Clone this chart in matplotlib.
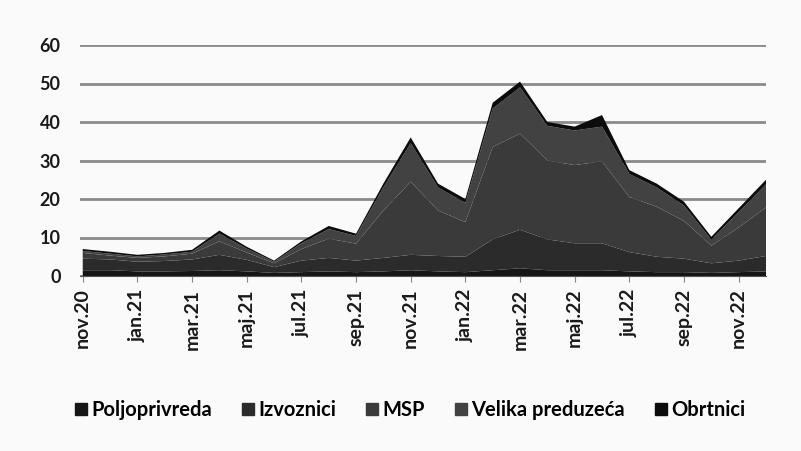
import matplotlib
matplotlib.use("Agg")
import matplotlib.pyplot as plt
import numpy as np
from matplotlib.patches import Patch

plt.rcParams['font.family'] = ['Lato', 'DejaVu Sans']

months = ["nov.20", "dec.20", "jan.21", "feb.21", "mar.21", "apr.21", "maj.21", "jun.21",
          "jul.21", "avg.21", "sep.21", "okt.21", "nov.21", "dec.21", "jan.22", "feb.22",
          "mar.22", "apr.22", "maj.22", "jun.22", "jul.22", "avg.22", "sep.22", "okt.22",
          "nov.22", "dec.22"]

poljoprivreda = [1.5, 1.5, 1.2, 1.2, 1.3, 1.5, 1.2, 0.8, 1.0, 1.2, 1.0, 1.2, 1.5, 1.2, 1.0, 1.5,
                 2.0, 1.5, 1.5, 1.5, 1.2, 1.0, 1.0, 0.8, 1.0, 1.2]
izvoznici = [3.0, 2.8, 2.5, 2.7, 3.0, 4.0, 3.0, 1.5, 3.0, 3.5, 3.0, 3.5, 4.0, 4.0, 4.0, 8.0,
             10.0, 8.0, 7.0, 7.0, 5.0, 4.0, 3.5, 2.5, 3.0, 4.0]
msp = [1.5, 1.0, 1.0, 1.2, 1.5, 3.5, 1.9, 1.0, 3.0, 5.0, 4.4, 12.3, 19.0, 11.8, 9.0, 24.0,
       25.0, 20.5, 20.3, 21.3, 14.3, 13.0, 9.8, 4.6, 8.6, 12.6]
velika = [0.5, 0.5, 0.4, 0.5, 0.5, 2.0, 1.0, 0.4, 1.5, 2.5, 2.0, 6.0, 10.0, 6.0, 5.0, 10.0,
          12.0, 9.0, 9.0, 9.0, 6.0, 5.0, 4.0, 1.5, 4.0, 6.0]
obrtnici = [0.5, 0.5, 0.4, 0.4, 0.5, 0.8, 0.5, 0.3, 0.5, 0.8, 0.6, 1.0, 1.5, 1.0, 1.0, 1.5,
            1.5, 1.0, 1.0, 3.0, 1.0, 1.0, 1.0, 0.8, 1.0, 1.2]

series_names = ["Poljoprivreda", "Izvoznici", "MSP", "Velika preduzeća", "Obrtnici"]
colors = ["#161616", "#2b2b2b", "#3a3a3a", "#424242", "#0c0c0c"]
yticks = [0, 10, 20, 30, 40, 50, 60]

fig = plt.figure(figsize=(8.01, 4.51), dpi=100)
fig.patch.set_facecolor("#fbfafb")
ax = fig.add_axes([80/801, 1-276/451, (766-80)/801, (276-45)/451])
ax.set_facecolor("#fbfafb")

x = np.arange(len(months))
ax.stackplot(x, poljoprivreda, izvoznici, msp, velika, obrtnici, colors=colors,
             linewidth=0, zorder=2)

ax.set_xlim(-0.1, len(months) - 1)
ax.set_ylim(0, 60)
ax.set_yticks(yticks)
ax.set_yticklabels([str(v) for v in yticks], fontsize=13, fontweight="bold", color="#1a1a1a")
ax.yaxis.grid(True, color="#8a8a8a", linewidth=2.0, zorder=0)
ax.set_axisbelow(True)
ax.set_xticks(x[::2])
ax.set_xticklabels(months[::2], rotation=90, fontsize=14, fontweight="bold", color="#1a1a1a",
                   va="top", ha="center")
ax.tick_params(axis="y", length=0, pad=14)
ax.tick_params(axis="x", length=4, color="#888888", pad=5)
for s in ["top", "right", "left"]:
    ax.spines[s].set_visible(False)
ax.spines["bottom"].set_color("#555555")

handles = [Patch(facecolor=c, edgecolor=c) for c in colors]
fig.legend(handles, series_names, loc="center", bbox_to_anchor=(410/801, 1-410/451), ncol=5,
           frameon=False, handlelength=0.6, handleheight=0.6,
           handletextpad=0.2, columnspacing=1.5, prop={"weight": "bold", "size": 14.5})

fig.savefig("out.png", dpi=100, facecolor=fig.get_facecolor())
